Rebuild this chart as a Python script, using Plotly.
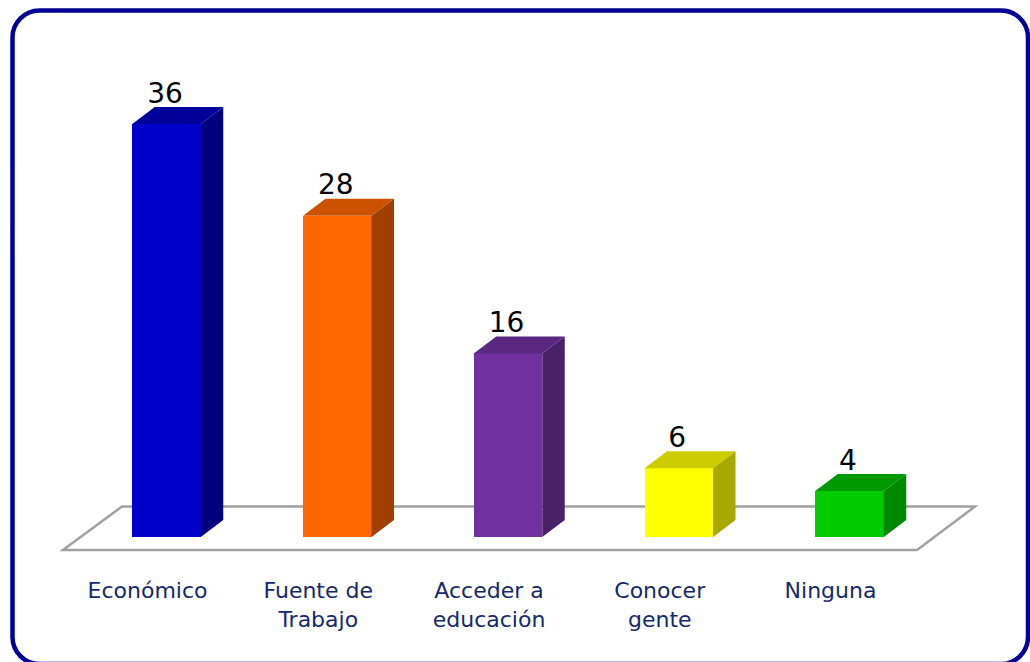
import plotly.graph_objects as go

categories = ["Económico", "Fuente de<br>Trabajo", "Acceder a<br>educación", "Conocer<br>gente", "Ninguna"]
values = [36, 28, 16, 6, 4]
front_colors = ["#0000CC", "#FF6600", "#7030A0", "#FFFF00", "#00CC00"]
side_colors = ["#000080", "#A04000", "#4A2068", "#A8A800", "#008800"]
top_colors = ["#000099", "#CC5200", "#5A2880", "#CCCC00", "#009900"]

W, H = 1030, 662
PLOT_BOTTOM = 575          # pixel row of the axis line
X0_PX, X_STEP = 166.5, 170.75
Y0_PX, Y_STEP = 537.0, 11.47
BAR_W = 68.5 / X_STEP
DX, DY = 22.5 / X_STEP, 17 / Y_STEP
LABEL_SHIFT = -19 / X_STEP
VALUE_SHIFT = -1.5 / X_STEP
VALUE_DROP = 2.5 / Y_STEP
TEXT = "#14296B"
FONT = "DejaVu Sans"

xs = list(range(len(values)))
fig = go.Figure()

# front faces
fig.add_trace(go.Bar(x=xs, y=values, width=BAR_W, marker=dict(color=front_colors, line=dict(width=0)),
                     hoverinfo="skip", showlegend=False))

# side and top faces, derived from the values
for i, v in zip(xs, values):
    l, r = i - BAR_W / 2, i + BAR_W / 2
    fig.add_trace(go.Scatter(x=[r, r + DX, r + DX, r, r], y=[0, DY, v + DY, v, 0], mode="lines", fill="toself",
                             fillcolor=side_colors[i], line=dict(width=0), hoverinfo="skip", showlegend=False))
    fig.add_trace(go.Scatter(x=[l, l + DX, r + DX, r, l], y=[v, v + DY, v + DY, v, v], mode="lines", fill="toself",
                             fillcolor=top_colors[i], line=dict(width=0), hoverinfo="skip", showlegend=False))

# value labels
fig.add_trace(go.Scatter(x=[i + VALUE_SHIFT for i in xs], y=[v + DY - VALUE_DROP for v in values], mode="text",
                         text=[str(v) for v in values], textposition="top center",
                         textfont=dict(family=FONT, size=28, color="#000000"), hoverinfo="skip", showlegend=False))

def xd(px):
    return (px - X0_PX) / X_STEP

def yd(py):
    return (Y0_PX - py) / Y_STEP

def xp(px):
    return px / W

def yp(py):
    return (PLOT_BOTTOM - py) / PLOT_BOTTOM

# floor, behind the bars
floor = [(63, 550), (917, 550), (975, 506.5), (122, 506.5)]
floor_path = "M " + " L ".join(f"{xd(a)},{yd(b)}" for a, b in floor) + " Z"

# rounded frame
L, T, R, B, RAD = 12.5, 10.5, 1028, 664, 27
K = RAD * 0.45

def corner(x1, y1, x2, y2, x3, y3):
    return f"C {xp(x1)},{yp(y1)} {xp(x2)},{yp(y2)} {xp(x3)},{yp(y3)} "

frame_path = (
    f"M {xp(L + RAD)},{yp(T)} L {xp(R - RAD)},{yp(T)} "
    + corner(R - K, T, R, T + K, R, T + RAD)
    + f"L {xp(R)},{yp(B - RAD)} "
    + corner(R, B - K, R - K, B, R - RAD, B)
    + f"L {xp(L + RAD)},{yp(B)} "
    + corner(L + K, B, L, B - K, L, B - RAD)
    + f"L {xp(L)},{yp(T + RAD)} "
    + corner(L, T + K, L + K, T, L + RAD, T)
    + "Z"
)

fig.update_layout(
    width=W, height=H,
    margin=dict(l=0, r=0, t=0, b=H - PLOT_BOTTOM, pad=0),
    paper_bgcolor="#FFFFFF", plot_bgcolor="rgba(0,0,0,0)",
    showlegend=False, bargap=0,
    shapes=[
        dict(type="path", xref="x", yref="y", path=floor_path, line=dict(color="#A0A0A0", width=2.5), layer="below"),
        dict(type="path", xref="paper", yref="paper", path=frame_path, line=dict(color="#000099", width=4.5), layer="below"),
    ],
    xaxis=dict(range=[xd(0), xd(W)], tickmode="array", tickvals=[i + LABEL_SHIFT for i in xs], ticktext=categories,
               ticks="", showgrid=False, zeroline=False, showline=False,
               tickfont=dict(family=FONT, size=22, color=TEXT)),
    yaxis=dict(range=[yd(PLOT_BOTTOM), yd(0)], visible=False, showgrid=False, zeroline=False),
)

fig.write_html("out.html", config={"displayModeBar": False},
               post_script="document.body.style.margin='0';document.body.style.overflow='hidden';")
